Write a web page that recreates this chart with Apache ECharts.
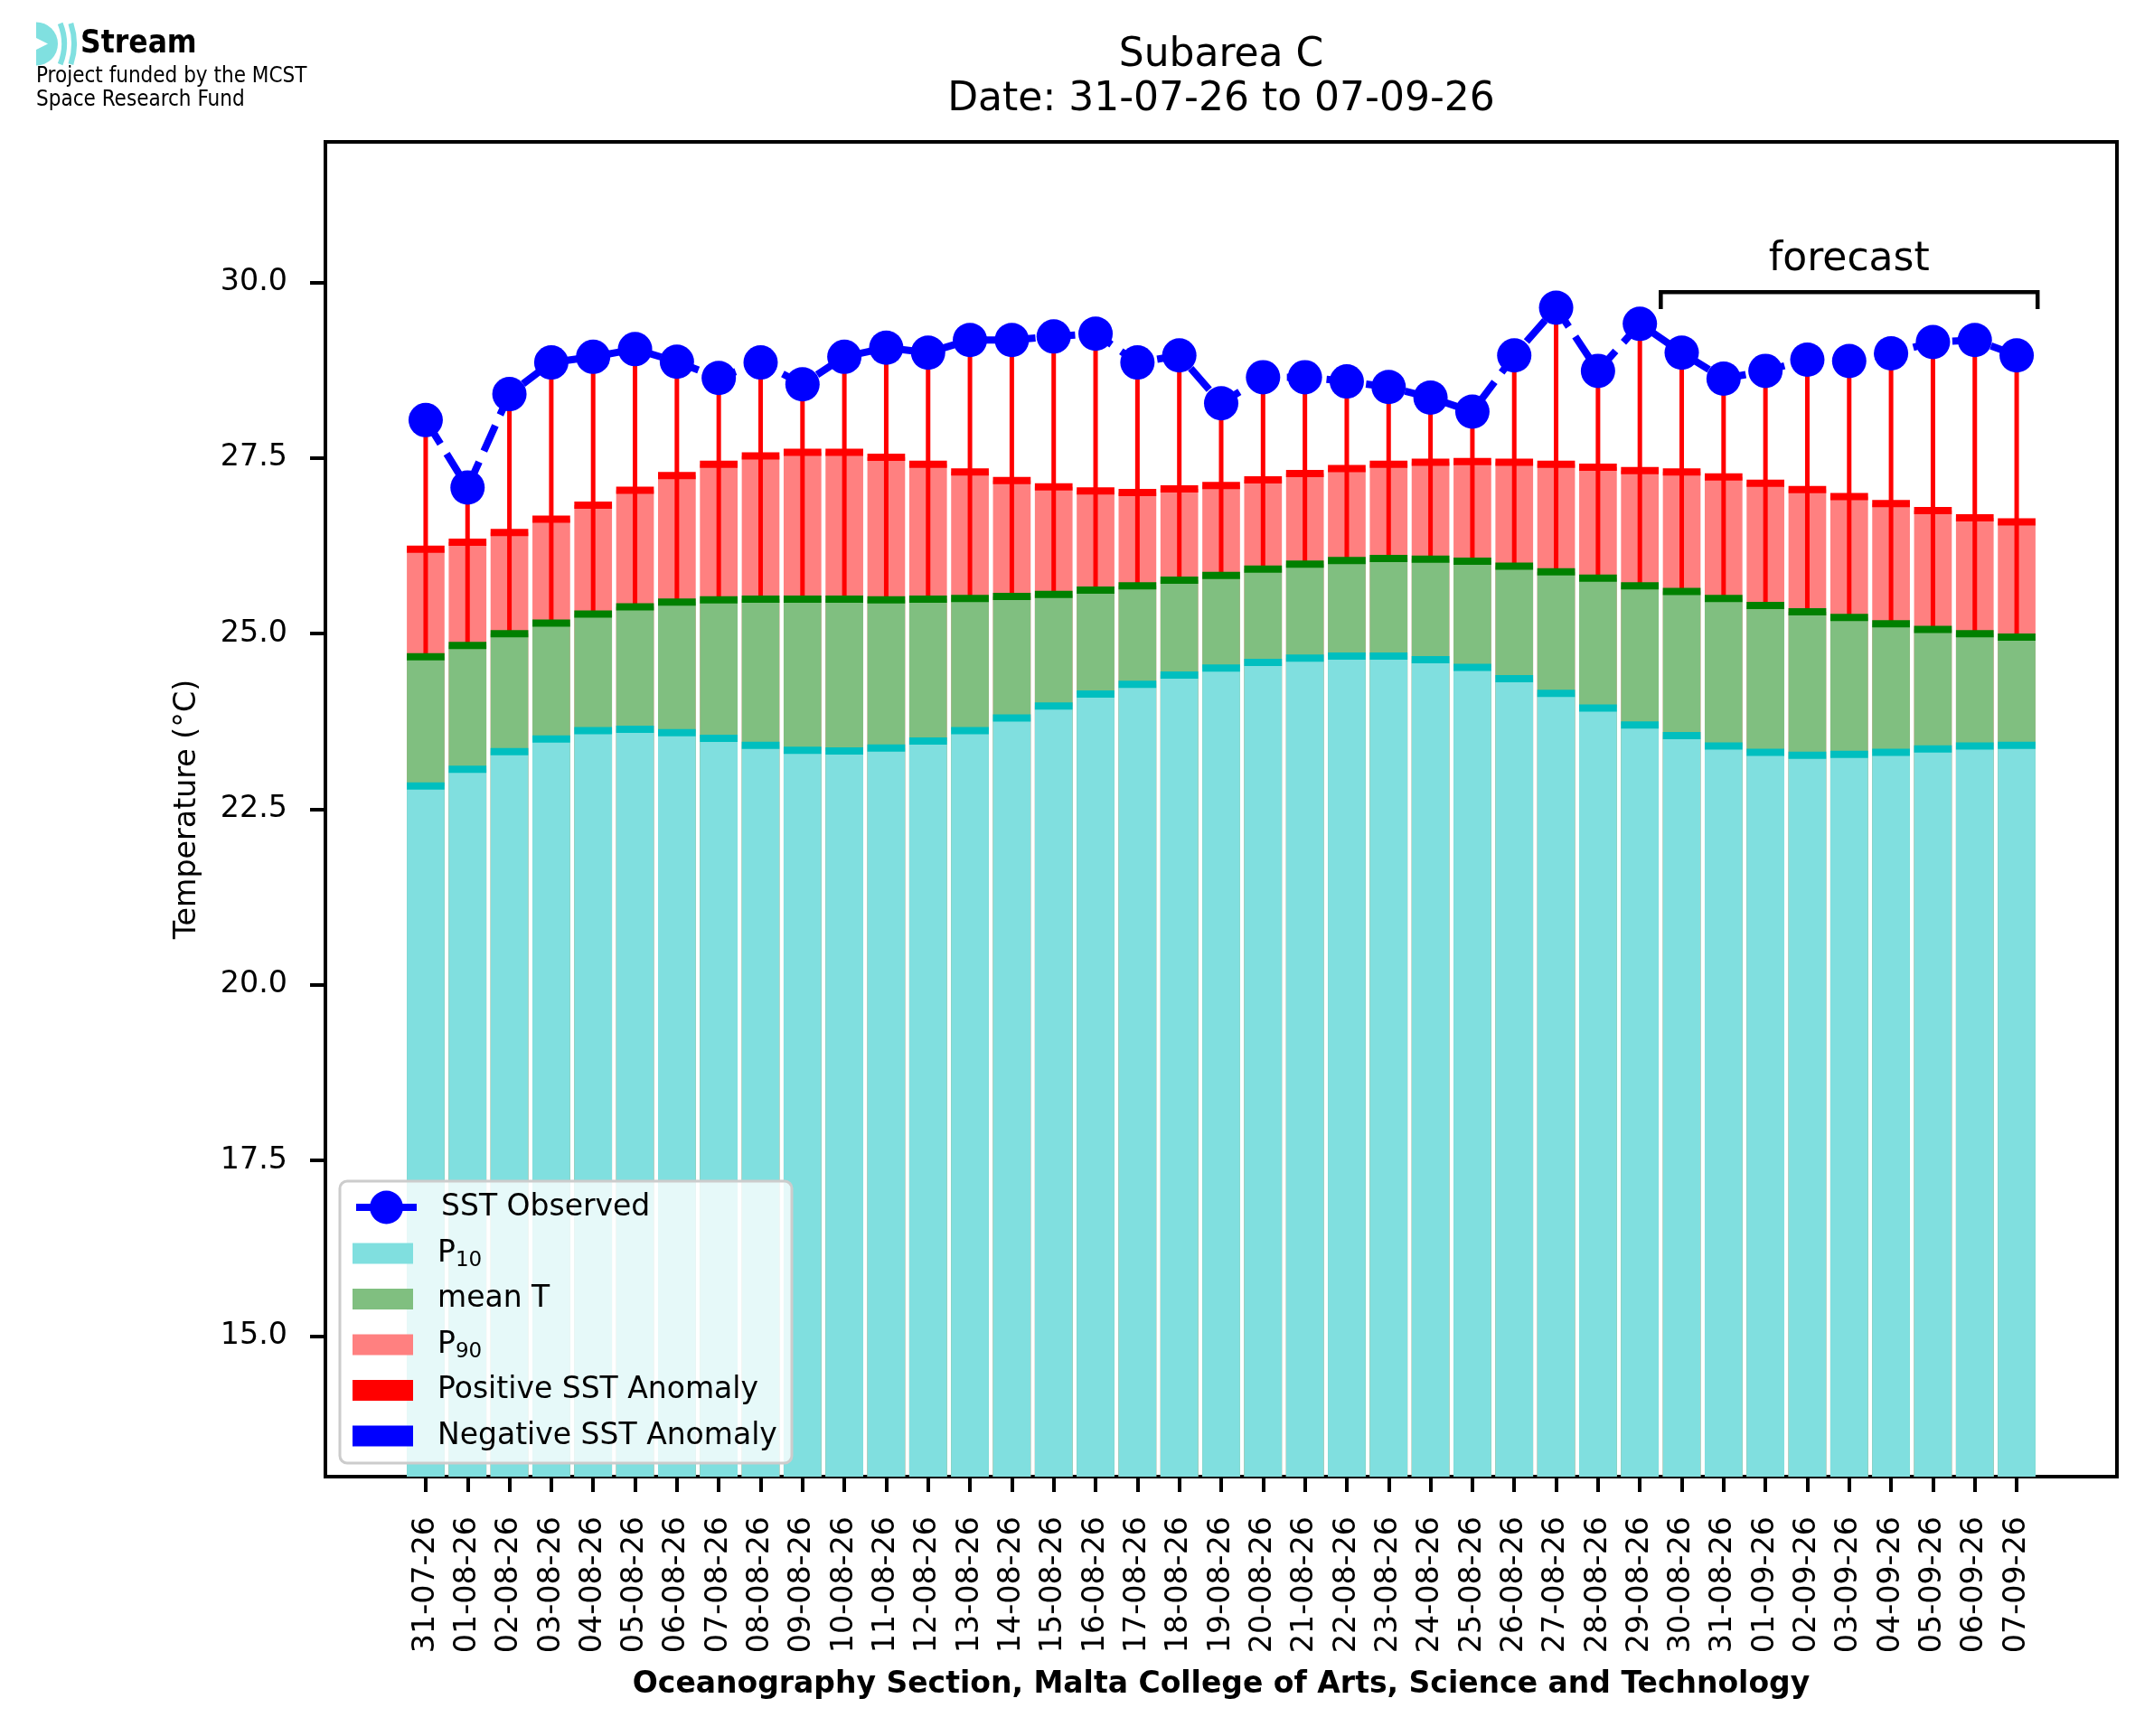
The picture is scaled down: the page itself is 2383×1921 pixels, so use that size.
<!DOCTYPE html>
<html>
<head>
<meta charset="utf-8">
<title>Subarea C</title>
<script src="https://cdn.jsdelivr.net/npm/echarts@6/dist/echarts.min.js"></script>
<style>
  html, body { margin: 0; padding: 0; background: #fff; }
  #chart { width: 2383px; height: 1921px; }
</style>
</head>
<body>
<div id="chart"></div>
<script>
// tick labels (one bar per day)
var dates = ['31-07-26', '01-08-26', '02-08-26', '03-08-26', '04-08-26', '05-08-26', '06-08-26',
    '07-08-26', '08-08-26', '09-08-26', '10-08-26', '11-08-26', '12-08-26', '13-08-26', '14-08-26',
    '15-08-26', '16-08-26', '17-08-26', '18-08-26', '19-08-26', '20-08-26', '21-08-26', '22-08-26',
    '23-08-26', '24-08-26', '25-08-26', '26-08-26', '27-08-26', '28-08-26', '29-08-26', '30-08-26',
    '31-08-26', '01-09-26', '02-09-26', '03-09-26', '04-09-26', '05-09-26', '06-09-26', '07-09-26'];

// observed SST (°C)
var sstObserved = [28.04, 27.08, 28.41, 28.86, 28.94, 29.05, 28.87, 28.64, 28.86, 28.55,
    28.94, 29.07, 29.00, 29.18, 29.18, 29.23, 29.27, 28.86, 28.96, 28.28,
    28.65, 28.65, 28.59, 28.51, 28.36, 28.16, 28.96, 29.64, 28.74, 29.41,
    29.00, 28.63, 28.74, 28.90, 28.88, 28.99, 29.15, 29.18, 28.96];

// climatology: 10th percentile, mean, 90th percentile
var p10 = [22.83, 23.07, 23.32, 23.50, 23.62, 23.64, 23.59, 23.51, 23.41, 23.34,
    23.33, 23.37, 23.47, 23.62, 23.80, 23.97, 24.14, 24.28, 24.41, 24.51,
    24.59, 24.65, 24.68, 24.68, 24.63, 24.52, 24.36, 24.15, 23.94, 23.70,
    23.55, 23.40, 23.31, 23.27, 23.28, 23.31, 23.36, 23.40, 23.41];
var meanT = [24.67, 24.83, 25.00, 25.15, 25.28, 25.38, 25.45, 25.48, 25.49, 25.49,
    25.49, 25.48, 25.49, 25.50, 25.53, 25.56, 25.62, 25.68, 25.76, 25.83,
    25.92, 25.99, 26.04, 26.07, 26.06, 26.03, 25.96, 25.88, 25.79, 25.68,
    25.60, 25.50, 25.40, 25.31, 25.23, 25.14, 25.06, 25.00, 24.95];
var p90 = [26.20, 26.30, 26.44, 26.63, 26.83, 27.04, 27.25, 27.41, 27.53, 27.58,
    27.58, 27.51, 27.41, 27.30, 27.18, 27.09, 27.03, 27.01, 27.06, 27.11,
    27.19, 27.28, 27.35, 27.41, 27.44, 27.45, 27.44, 27.41, 27.37, 27.32,
    27.30, 27.23, 27.14, 27.05, 26.95, 26.85, 26.75, 26.65, 26.59];

// forecast bracket: from / to (bar index), top and end of the hooks (°C)
var forecastSpan = [29.5, 38.5];
var forecastLevel = [29.86, 29.62];
var forecastLabelY = 30.32;

var yTicks = [15, 17.5, 20, 22.5, 25, 27.5, 30];

var barFrac = 0.9;
var nBars = dates.length;
var xPad = 0.05 * (nBars - 1 + barFrac);
var xMin = -barFrac / 2 - xPad;
var xMax = nBars - 1 + barFrac / 2 + xPad;

var grid = { left: 360, right: 41, top: 157, bottom: 287 };
var plotW = 2383 - grid.left - grid.right;
var barPx = plotW / (xMax - xMin) * barFrac;

var font = "'DejaVu Sans', sans-serif";
var condensed = "'DejaVu Sans Condensed', 'DejaVu Sans', sans-serif";
var tickSize = 33.3;

var idx = dates.map(function (d, i) { return i; });
function pairs(arr) { return arr.map(function (v, i) { return [i, v]; }); }

// short horizontal line on top of each bar segment
function levelLine(color) {
    return function (params, api) {
        var c = api.coord([api.value(0), api.value(1)]);
        var w = api.size([barFrac, 0])[0];
        return {
            type: 'rect',
            shape: { x: c[0] - w / 2, y: c[1] - 4, width: w, height: 8 },
            style: { fill: color }
        };
    };
}

function anomaly(color) {
    return function (params, api) {
        var a = api.coord([api.value(0), api.value(1)]);
        var b = api.coord([api.value(0), api.value(2)]);
        return {
            type: 'line',
            shape: { x1: a[0], y1: a[1], x2: b[0], y2: b[1] },
            style: { stroke: color, lineWidth: 5 }
        };
    };
}

var posAnom = [], negAnom = [];
sstObserved.forEach(function (v, i) {
    if (v >= meanT[i]) posAnom.push([i, meanT[i], v]);
    else negAnom.push([i, meanT[i], v]);
});

var legendText = {
    fontFamily: font, fontSize: 33, color: '#000', lineHeight: 40, padding: [0, 0, 0, 22],
    rich: { sub: { fontFamily: font, fontSize: 23, color: '#000', padding: [16, 0, 0, 0] } }
};

var myChart = echarts.init(document.getElementById('chart'), null, { renderer: 'canvas' });

var option = {
    animation: false,
    backgroundColor: '#fff',
    textStyle: { fontFamily: font },
    title: {
        text: 'Subarea C\nDate: ' + dates[0] + ' to ' + dates[nBars - 1],
        left: grid.left + plotW / 2,
        top: 37,
        textAlign: 'center',
        padding: 0,
        textStyle: { fontFamily: font, fontSize: 44, fontWeight: 'normal', color: '#000', lineHeight: 49 }
    },
    grid: {
        left: grid.left, right: grid.right, top: grid.top, bottom: grid.bottom,
        show: true, borderColor: '#000', borderWidth: 4, backgroundColor: 'transparent'
    },
    xAxis: {
        type: 'value',
        min: xMin,
        max: xMax,
        axisLine: { show: true, onZero: false, lineStyle: { color: '#000', width: 4 } },
        axisTick: { show: true, length: 17, lineStyle: { color: '#000', width: 4 }, customValues: idx },
        axisLabel: {
            customValues: idx,
            rotate: 90,
            margin: 44,
            fontSize: tickSize,
            color: '#000',
            fontFamily: font,
            formatter: function (v) { return dates[Math.round(v)]; }
        },
        splitLine: { show: false },
        name: 'Oceanography Section, Malta College of Arts, Science and Technology',
        nameLocation: 'middle',
        nameGap: 214,
        nameTextStyle: { fontFamily: font, fontSize: 33, fontWeight: 'bold', color: '#000' }
    },
    yAxis: {
        type: 'value',
        min: 13,
        max: 32,
        axisLine: { show: true, onZero: false, lineStyle: { color: '#000', width: 4 } },
        axisTick: { show: true, length: 17, lineStyle: { color: '#000', width: 4 }, customValues: yTicks },
        axisLabel: {
            customValues: yTicks,
            margin: 42,
            fontSize: tickSize,
            color: '#000',
            fontFamily: font,
            formatter: function (v) { return v.toFixed(1); }
        },
        splitLine: { show: false },
        name: 'Temperature (°C)',
        nameLocation: 'middle',
        nameRotate: 90,
        nameGap: 136,
        nameTextStyle: { fontFamily: font, fontSize: tickSize, color: '#000' }
    },
    legend: [{
        data: ['SST Observed'],
        orient: 'vertical',
        left: 390,
        top: 1316,
        padding: 0,
        itemWidth: 67,
        itemHeight: 46,
        selectedMode: false,
        z: 20,
        lineStyle: { type: 'solid', width: 8, color: '#0000ff' },
        textStyle: legendText
    }, {
        data: ['P₁₀', 'mean T', 'P₉₀', 'Positive SST Anomaly', 'Negative SST Anomaly'],
        orient: 'vertical',
        left: 390,
        top: 1367,
        padding: 0,
        itemWidth: 67,
        itemHeight: 23,
        itemGap: 10.5,
        icon: 'rect',
        selectedMode: false,
        z: 20,
        formatter: function (name) {
            if (name === 'P₁₀') return 'P{sub|10}';
            if (name === 'P₉₀') return 'P{sub|90}';
            return name;
        },
        textStyle: legendText
    }],
    graphic: [
        // legend frame
        {
            type: 'rect', z: 10,
            shape: { x: 376, y: 1307, width: 500, height: 312, r: 8 },
            style: { fill: 'rgba(255,255,255,0.8)', stroke: '#cccccc', lineWidth: 3 }
        },
        // logo
        { type: 'sector', shape: { cx: 40, cy: 48.5, r: 24, r0: 0, startAngle: -Math.PI / 2, endAngle: Math.PI / 2 }, style: { fill: '#80e0e0' } },
        { type: 'polygon', shape: { points: [[40, 42], [53, 48.5], [40, 55]] }, style: { fill: '#fff' } },
        { type: 'arc', shape: { cx: 10, cy: 48.5, r: 61, startAngle: -0.38, endAngle: 0.38 }, style: { stroke: '#80e0e0', lineWidth: 6, fill: null } },
        { type: 'arc', shape: { cx: 10, cy: 48.5, r: 72, startAngle: -0.32, endAngle: 0.32 }, style: { stroke: '#80e0e0', lineWidth: 6, fill: null } },
        { type: 'text', x: 89, y: 49, style: { text: 'Stream', font: 'bold 35px ' + condensed, fill: '#000', verticalAlign: 'middle' } },
        { type: 'text', x: 40, y: 85, style: { text: 'Project funded by the MCST', font: '24px ' + condensed, fill: '#000', verticalAlign: 'middle' } },
        { type: 'text', x: 40, y: 111, style: { text: 'Space Research Fund', font: '24px ' + condensed, fill: '#000', verticalAlign: 'middle' } }
    ],
    series: [{
        name: 'P₉₀',
        type: 'bar',
        data: pairs(p90),
        barWidth: barPx,
        barGap: '-100%',
        clip: true,
        itemStyle: { color: '#ff8080' },
        emphasis: { disabled: true },
        z: 2
    }, {
        name: 'mean T',
        type: 'bar',
        data: pairs(meanT),
        barWidth: barPx,
        barGap: '-100%',
        clip: true,
        itemStyle: { color: '#80bf80' },
        emphasis: { disabled: true },
        z: 2
    }, {
        name: 'P₁₀',
        type: 'bar',
        data: pairs(p10),
        barWidth: barPx,
        barGap: '-100%',
        clip: true,
        itemStyle: { color: '#80dfdf' },
        emphasis: { disabled: true },
        z: 2
    }, {
        name: 'Positive SST Anomaly',
        type: 'custom',
        data: posAnom,
        renderItem: anomaly('#ff0000'),
        itemStyle: { color: '#ff0000' },
        z: 3
    }, {
        name: 'Negative SST Anomaly',
        type: 'custom',
        data: negAnom,
        renderItem: anomaly('#0000ff'),
        itemStyle: { color: '#0000ff' },
        z: 3
    }, {
        name: 'p10 line',
        type: 'custom',
        data: pairs(p10),
        renderItem: levelLine('#00bfbf'),
        z: 4
    }, {
        name: 'mean line',
        type: 'custom',
        data: pairs(meanT),
        renderItem: levelLine('#008000'),
        z: 4
    }, {
        name: 'p90 line',
        type: 'custom',
        data: pairs(p90),
        renderItem: levelLine('#ff0000'),
        z: 4
    }, {
        name: 'SST Observed',
        type: 'line',
        data: pairs(sstObserved),
        symbol: 'circle',
        symbolSize: 38,
        itemStyle: { color: '#0000ff' },
        lineStyle: { color: '#0000ff', width: 8, type: [31, 13] },
        emphasis: { disabled: true },
        z: 5
    }, {
        name: 'forecast',
        type: 'custom',
        data: [[forecastSpan[0], forecastSpan[1], forecastLevel[0], forecastLevel[1]]],
        renderItem: function (params, api) {
            var a = api.coord([api.value(0), api.value(3)]);
            var b = api.coord([api.value(0), api.value(2)]);
            var c = api.coord([api.value(1), api.value(2)]);
            var d = api.coord([api.value(1), api.value(3)]);
            var t = api.coord([(api.value(0) + api.value(1)) / 2, forecastLabelY]);
            return {
                type: 'group',
                children: [{
                    type: 'polyline',
                    shape: { points: [a, b, c, d] },
                    style: { stroke: '#000', lineWidth: 4.5, fill: null }
                }, {
                    type: 'text',
                    x: t[0], y: t[1],
                    style: { text: 'forecast', font: '44px ' + font, fill: '#000', align: 'center', verticalAlign: 'middle' }
                }]
            };
        },
        z: 5
    }]
};

myChart.setOption(option);
window.addEventListener('resize', function () {
    myChart.resize();
});
</script>
</body>
</html>
